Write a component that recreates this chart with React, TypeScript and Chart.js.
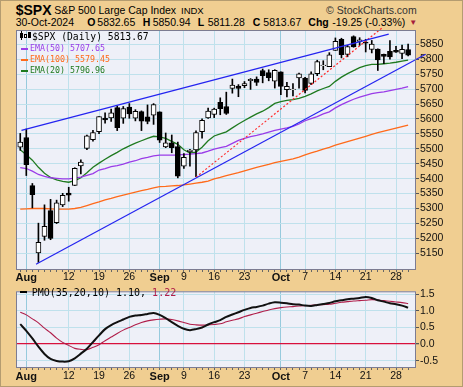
import React, { useEffect, useRef } from 'react';
import { Chart, registerables } from 'chart.js';
Chart.register(...registerables);

// ---------- DATA ----------
const dates = [
  'Jul 31', 'Aug 1', 'Aug 2', 'Aug 5', 'Aug 6', 'Aug 7', 'Aug 8', 'Aug 9', 'Aug 12', 'Aug 13',
  'Aug 14', 'Aug 15', 'Aug 16', 'Aug 19', 'Aug 20', 'Aug 21', 'Aug 22', 'Aug 23', 'Aug 26', 'Aug 27',
  'Aug 28', 'Aug 29', 'Aug 30', 'Sep 3', 'Sep 4', 'Sep 5', 'Sep 6', 'Sep 9', 'Sep 10', 'Sep 11',
  'Sep 12', 'Sep 13', 'Sep 16', 'Sep 17', 'Sep 18', 'Sep 19', 'Sep 20', 'Sep 23', 'Sep 24', 'Sep 25',
  'Sep 26', 'Sep 27', 'Sep 30', 'Oct 1', 'Oct 2', 'Oct 3', 'Oct 4', 'Oct 7', 'Oct 8', 'Oct 9',
  'Oct 10', 'Oct 11', 'Oct 14', 'Oct 15', 'Oct 16', 'Oct 17', 'Oct 18', 'Oct 21', 'Oct 22', 'Oct 23',
  'Oct 24', 'Oct 25', 'Oct 28', 'Oct 29', 'Oct 30',
];
const opens = [
  5505.6, 5537.8, 5376.6, 5151.1, 5206.4, 5293.1, 5252.6, 5312.2, 5351.9, 5377.0,
  5442.7, 5501.1, 5530.5, 5557.2, 5602.9, 5603.1, 5637.8, 5602.9, 5639.7, 5602.9,
  5624.5, 5607.3, 5612.7, 5623.9, 5506.7, 5520.1, 5507.3, 5442.1, 5490.5, 5496.4,
  5557.5, 5603.3, 5615.2, 5655.5, 5641.7, 5702.6, 5709.8, 5711.9, 5727.9, 5733.7,
  5762.2, 5755.4, 5726.5, 5757.7, 5698.2, 5698.2, 5737.8, 5737.1, 5719.1, 5751.8,
  5778.4, 5775.1, 5829.8, 5866.7, 5816.6, 5875.6, 5859.4, 5857.8, 5832.7, 5834.5,
  5816.8, 5826.8, 5830.2, 5819.7, 5832.65,
];
const highs = [
  5551.5, 5566.2, 5383.9, 5250.9, 5312.3, 5330.6, 5328.0, 5350.9, 5371.2, 5436.5,
  5463.2, 5546.2, 5562.0, 5608.3, 5620.5, 5632.7, 5643.2, 5641.8, 5651.6, 5631.2,
  5627.0, 5647.0, 5651.4, 5623.9, 5553.0, 5546.3, 5522.5, 5484.2, 5497.9, 5560.4,
  5600.7, 5636.3, 5636.1, 5670.8, 5689.8, 5733.6, 5715.1, 5725.4, 5735.3, 5741.0,
  5767.4, 5764.8, 5765.1, 5757.7, 5722.4, 5718.8, 5753.4, 5739.4, 5757.6, 5796.8,
  5795.0, 5822.1, 5871.4, 5870.4, 5846.5, 5878.5, 5872.2, 5866.9, 5863.0, 5834.9,
  5817.3, 5862.8, 5842.9, 5847.2, 5850.94,
];
const lows = [
  5495.0, 5410.4, 5302.0, 5119.3, 5193.6, 5195.5, 5249.5, 5306.3, 5324.4, 5377.0,
  5415.6, 5497.0, 5525.9, 5550.7, 5585.5, 5591.6, 5561.0, 5585.2, 5602.3, 5593.5,
  5561.0, 5583.7, 5581.8, 5521.1, 5503.7, 5486.8, 5402.6, 5434.5, 5441.7, 5407.0,
  5535.5, 5601.7, 5604.5, 5614.1, 5615.1, 5686.4, 5674.5, 5704.9, 5699.0, 5712.1,
  5721.0, 5727.8, 5703.5, 5681.3, 5674.0, 5677.2, 5702.8, 5686.9, 5714.6, 5745.0,
  5764.8, 5775.1, 5829.8, 5804.5, 5808.3, 5840.3, 5846.1, 5824.4, 5821.2, 5762.4,
  5784.9, 5800.0, 5823.1, 5802.0, 5811.28,
];
const closes = [
  5522.3, 5446.7, 5346.6, 5186.3, 5240.0, 5199.5, 5319.3, 5344.2, 5344.4, 5434.4,
  5455.2, 5543.2, 5554.3, 5608.3, 5597.1, 5620.9, 5570.6, 5634.6, 5616.8, 5625.8,
  5592.2, 5592.0, 5648.4, 5528.9, 5520.1, 5503.4, 5408.4, 5471.1, 5495.5, 5554.1,
  5595.8, 5626.0, 5633.1, 5634.6, 5618.3, 5713.6, 5702.6, 5718.6, 5732.9, 5722.3,
  5745.4, 5738.2, 5762.5, 5708.8, 5709.5, 5699.9, 5751.1, 5695.9, 5751.1, 5792.0,
  5780.1, 5815.0, 5859.9, 5815.3, 5842.5, 5841.5, 5864.7, 5854.0, 5851.2, 5797.4,
  5809.9, 5808.1, 5823.5, 5832.9, 5813.67,
];
const ema20 = [
  5497, 5480, 5462, 5438, 5418, 5404, 5396, 5391, 5388, 5393,
  5403, 5420, 5438, 5452, 5465, 5477, 5488, 5500, 5510, 5519,
  5527, 5535, 5542, 5540, 5535, 5525, 5515, 5497, 5486, 5489,
  5505, 5527, 5543, 5550, 5557, 5570, 5583, 5595, 5606, 5617,
  5626, 5638, 5652, 5658, 5662, 5665, 5669, 5676, 5684, 5694,
  5702, 5709, 5726, 5740, 5752, 5762, 5772, 5779, 5783, 5783,
  5785, 5787, 5790, 5794, 5797,
];
const ema50 = [
  5437, 5434, 5425, 5414, 5408, 5403, 5401, 5399, 5399, 5402,
  5405, 5411, 5417, 5429, 5434, 5440, 5444, 5449, 5455, 5460,
  5467, 5471, 5476, 5479, 5479, 5479, 5479, 5481, 5482, 5484,
  5486, 5492, 5499, 5504, 5508, 5518, 5528, 5535, 5541, 5545,
  5550, 5556, 5562, 5566, 5570, 5575, 5583, 5594, 5601, 5608,
  5617, 5624, 5637, 5648, 5657, 5666, 5673, 5679, 5685, 5688,
  5691, 5695, 5699, 5703, 5708,
];
const ema100 = [
  5298, 5299, 5300, 5300, 5300, 5299, 5298, 5298, 5298, 5300,
  5304, 5310, 5316, 5322, 5329, 5334, 5340, 5345, 5350, 5355,
  5360, 5364, 5369, 5373, 5374, 5376, 5377, 5379, 5382, 5385,
  5388, 5392, 5399, 5404, 5410, 5415, 5420, 5426, 5432, 5438,
  5443, 5448, 5454, 5458, 5462, 5466, 5472, 5480, 5486, 5492,
  5499, 5505, 5512, 5518, 5524, 5530, 5536, 5542, 5548, 5554,
  5559, 5564, 5569, 5574, 5579,
];
const pmo = [
  0.60, 0.40, 0.17, -0.08, -0.30, -0.45, -0.51, -0.53, -0.52, -0.43,
  -0.29, -0.14, 0.06, 0.26, 0.45, 0.57, 0.66, 0.74, 0.82, 0.86,
  0.88, 0.91, 0.94, 0.88, 0.78, 0.66, 0.55, 0.46, 0.42, 0.45,
  0.50, 0.59, 0.66, 0.72, 0.82, 0.89, 0.96, 1.03, 1.09, 1.12,
  1.16, 1.22, 1.26, 1.25, 1.23, 1.20, 1.19, 1.16, 1.15, 1.18,
  1.21, 1.24, 1.29, 1.32, 1.35, 1.37, 1.39, 1.42, 1.39, 1.32,
  1.28, 1.23, 1.20, 1.16, 1.10,
];
const pmoSignal = [
  0.96, 0.88, 0.76, 0.64, 0.48, 0.34, 0.18, 0.05, -0.04, -0.13,
  -0.16, -0.17, -0.10, -0.02, 0.10, 0.21, 0.32, 0.42, 0.50, 0.58,
  0.65, 0.70, 0.73, 0.75, 0.76, 0.74, 0.70, 0.65, 0.60, 0.58,
  0.57, 0.58, 0.59, 0.61, 0.67, 0.72, 0.76, 0.83, 0.88, 0.93,
  0.98, 1.03, 1.07, 1.10, 1.12, 1.13, 1.15, 1.16, 1.17, 1.18,
  1.19, 1.20, 1.23, 1.26, 1.28, 1.30, 1.31, 1.32, 1.34, 1.33,
  1.31, 1.29, 1.27, 1.25, 1.22,
];
const priceTicks = [5150, 5200, 5250, 5300, 5350, 5400, 5450, 5500, 5550, 5600, 5650, 5700, 5750, 5800, 5850];
const pmoTicks = [-0.5, 0, 0.5, 1.0, 1.5];
const dateTickIndex = [1, 8, 13, 18, 23, 27, 32, 37, 43, 47, 52, 57, 62];
const dateTickLabels = ['Aug', '12', '19', '26', 'Sep', '9', '16', '23', 'Oct', '7', '14', '21', '28'];
const monthLabels = ['Aug', 'Sep', 'Oct'];
// trend lines: [index, price]
const upperChannel = [[0.2, 5562], [60.8, 5884]];
const lowerChannel = [[2.6, 5113], [66.9, 5817]];
const redTrend = [[29, 5405], [59.7, 5905]];

// ---------- STYLE ----------
const TAN = '#F0CE91';
const PLOT_BG = '#EEF0F8';
const FRAME = '#7C7C92';
const GRID = '#BFE1EC';
const GRID_MONTH = '#96CADD';
const SANS = '"Liberation Sans", Arial, sans-serif';
const MONO = '"DejaVu Sans Mono", monospace';
const C_EMA50 = '#9A3CE8';
const C_EMA100 = '#FF6A1A';
const C_EMA20 = '#1F7A1F';
const C_BLUE = '#2424F0';
const C_RED = '#FF2A2A';
const C_SIGNAL = '#B01E4A';
const C_ZERO = '#D8103C';

const X_MIN = -0.7;
const X_MAX = 65.3;

const labelFor = (v: number) => {
  const k = dateTickIndex.indexOf(v);
  return k >= 0 ? dateTickLabels[k] : '';
};

const framePlugin = {
  id: 'frame',
  beforeDraw(chart: any) {
    const { ctx, chartArea: a } = chart;
    ctx.save();
    ctx.fillStyle = PLOT_BG;
    ctx.fillRect(a.left, a.top, a.right - a.left, a.bottom - a.top);
    ctx.restore();
  },
  afterDraw(chart: any) {
    const { ctx, chartArea: a } = chart;
    ctx.save();
    ctx.strokeStyle = FRAME;
    ctx.lineWidth = 1;
    ctx.strokeRect(a.left + 0.5, a.top + 0.5, a.right - a.left - 1, a.bottom - a.top - 1);
    ctx.restore();
  },
};

function xScale(height: number, pad: number) {
  return {
    type: 'linear',
    min: X_MIN,
    max: X_MAX,
    offset: false,
    afterBuildTicks: (s: any) => {
      s.ticks = dates.map((_, i) => ({ value: i }));
    },
    afterFit: (s: any) => {
      s.height = height;
    },
    border: { display: false },
    grid: {
      offset: false,
      drawTicks: true,
      tickLength: 2,
      tickColor: '#666',
      lineWidth: 1,
      color: (c: any) => {
        const lab = labelFor(c.tick ? c.tick.value : -1);
        if (!lab) return 'rgba(0,0,0,0)';
        return monthLabels.includes(lab) ? GRID_MONTH : GRID;
      },
    },
    ticks: {
      autoSkip: false,
      maxRotation: 0,
      minRotation: 0,
      padding: pad,
      color: '#111',
      callback: (v: any) => labelFor(v),
      font: (c: any) => {
        const lab = labelFor(c.tick ? c.tick.value : -1);
        const m = monthLabels.includes(lab);
        return { family: SANS, size: m ? 11 : 10.5, weight: m ? 'bold' : 'normal' };
      },
    },
  };
}

function pts(arr: number[]) {
  return arr.map((v, i) => ({ x: i, y: v }));
}
function seg(p: number[][]) {
  return p.map(([x, y]) => ({ x, y }));
}

function mainConfig(): any {
  const lineDs = (data: number[], color: string) => ({
    type: 'line', data: pts(data), borderColor: color, borderWidth: 1.3,
    pointRadius: 0, tension: 0, order: 5,
  });
  const trendDs = (p: number[][], color: string, dash: number[]) => ({
    type: 'line', data: seg(p), borderColor: color, borderWidth: 1.2, borderDash: dash,
    pointRadius: 0, tension: 0, clip: false, order: 0,
  });
  return {
    type: 'bar',
    data: {
      datasets: [
        lineDs(ema100, C_EMA100),
        lineDs(ema50, C_EMA50),
        lineDs(ema20, C_EMA20),
        {
          type: 'bar', data: dates.map((_, i) => ({ x: i, y: [lows[i], highs[i]] })),
          backgroundColor: '#000', borderWidth: 0, barThickness: 1, maxBarThickness: 1,
          grouped: false, order: 3,
        },
        {
          type: 'bar', data: dates.map((_, i) => ({ x: i, y: [opens[i], closes[i]] })),
          backgroundColor: dates.map((_, i) => (closes[i] > opens[i] ? '#FFFFFF' : '#000000')),
          borderColor: '#000', borderWidth: 1, borderSkipped: false,
          barThickness: 5, maxBarThickness: 5, grouped: false, order: 2,
        },
        trendDs(upperChannel, C_BLUE, []),
        trendDs(lowerChannel, C_BLUE, []),
        trendDs(redTrend, C_RED, [2, 2]),
      ],
    },
    options: {
      responsive: false,
      animation: false,
      devicePixelRatio: 1,
      events: [],
      layout: { padding: { left: 16, top: 30, right: 0, bottom: 0 } },
      plugins: { legend: { display: false }, tooltip: { enabled: false } },
      scales: {
        x: xScale(14, -1),
        y: {
          type: 'linear', position: 'right', min: 5094, max: 5898,
          afterBuildTicks: (s: any) => { s.ticks = priceTicks.map((v) => ({ value: v })); },
          afterFit: (s: any) => { s.width = 47; },
          border: { display: false },
          grid: { color: GRID, tickLength: 3, tickColor: '#555' },
          ticks: { padding: 1, color: '#111', font: { family: SANS, size: 10.5 }, callback: (v: any) => String(v) },
        },
      },
    },
    plugins: [framePlugin],
  };
}

function pmoConfig(): any {
  return {
    type: 'line',
    data: {
      datasets: [
        { data: pts(pmo), borderColor: '#111', borderWidth: 2, pointRadius: 0, tension: 0.3, order: 0 },
        { data: pts(pmoSignal), borderColor: C_SIGNAL, borderWidth: 1.1, pointRadius: 0, tension: 0.3, order: 1 },
      ],
    },
    options: {
      responsive: false,
      animation: false,
      devicePixelRatio: 1,
      events: [],
      layout: { padding: { left: 16, top: 1, right: 0, bottom: 0 } },
      plugins: { legend: { display: false }, tooltip: { enabled: false } },
      scales: {
        x: xScale(19, 0),
        y: {
          type: 'linear', position: 'right', min: -0.723, max: 1.592,
          afterBuildTicks: (s: any) => { s.ticks = pmoTicks.map((v) => ({ value: v })); },
          afterFit: (s: any) => { s.width = 47; },
          border: { display: false },
          grid: {
            color: (c: any) => (c.tick && c.tick.value === 0 ? C_ZERO : GRID),
            lineWidth: (c: any) => (c.tick && c.tick.value === 0 ? 1.3 : 1),
            tickLength: 3, tickColor: '#555',
          },
          ticks: { padding: 1, color: '#111', font: { family: SANS, size: 10.5 }, callback: (v: any) => Number(v).toFixed(1) },
        },
      },
    },
    plugins: [framePlugin],
  };
}

function Txt(props: any) {
  const { x, b, size, children, color = '#000', bold = false, family = SANS, right } = props;
  const style: any = {
    position: 'absolute', top: b - 0.846 * size, fontSize: size, lineHeight: `${size}px`,
    fontFamily: family, fontWeight: bold ? 700 : 400, color, whiteSpace: 'nowrap',
  };
  if (right !== undefined) style.right = right; else style.left = x;
  return <span style={style}>{children}</span>;
}

function Dash({ x, y, w, color }: any) {
  return <div style={{ position: 'absolute', left: x, top: y, width: w, height: 2, background: color }} />;
}

export default function App() {
  const mainRef = useRef<HTMLCanvasElement>(null);
  const pmoRef = useRef<HTMLCanvasElement>(null);
  useEffect(() => {
    document.body.style.margin = '0';
    const c1 = new Chart(mainRef.current as HTMLCanvasElement, mainConfig());
    const c2 = new Chart(pmoRef.current as HTMLCanvasElement, pmoConfig());
    return () => { c1.destroy(); c2.destroy(); };
  }, []);

  const r2 = 26.3;
  return (
    <div style={{ position: 'relative', width: 463, height: 387, background: TAN, overflow: 'hidden' }}>
      <Txt x={15.7} b={14.7} size={14} bold>$SPX</Txt>
      <Txt x={54.3} b={14.2} size={10.5}>S&amp;P 500 Large Cap Index</Txt>
      <Txt x={181} b={14.2} size={9.5}>INDX</Txt>
      <Txt right={46.3} b={14.2} size={10.5} color="#333">© StockCharts.com</Txt>

      <Txt x={15.7} b={r2} size={10.5}>30-Oct-2024</Txt>
      <Txt x={87.3} b={r2} size={10.5} bold>O</Txt>
      <Txt x={97.3} b={r2} size={10.5}>5832.65</Txt>
      <Txt x={142.7} b={r2} size={10.5} bold>H</Txt>
      <Txt x={152.7} b={r2} size={10.5}>5850.94</Txt>
      <Txt x={197.7} b={r2} size={10.5} bold>L</Txt>
      <Txt x={207.7} b={r2} size={10.5}>5811.28</Txt>
      <Txt x={252.7} b={r2} size={10.5} bold>C</Txt>
      <Txt x={263.3} b={r2} size={10.5}>5813.67</Txt>
      <Txt x={308.3} b={r2} size={10.5} bold>Chg</Txt>
      <Txt x={332.3} b={r2} size={10.5}>-19.25 (-0.33%)</Txt>
      <Txt x={409.3} b={r2 - 1} size={8} color="#A41C3C">▼</Txt>

      <canvas ref={mainRef} width={463} height={284} style={{ position: 'absolute', left: 0, top: 0, width: 463, height: 284 }} />
      <canvas ref={pmoRef} width={463} height={103} style={{ position: 'absolute', left: 0, top: 284, width: 463, height: 103 }} />

      {/* main legend */}
      <div style={{ position: 'absolute', left: 20, top: 33, width: 3, height: 5, background: '#000' }} />
      <div style={{ position: 'absolute', left: 21, top: 31, width: 1, height: 9, background: '#000' }} />
      <div style={{ position: 'absolute', left: 24, top: 34, width: 3, height: 4, border: '1px solid #000', background: '#fff', boxSizing: 'border-box' }} />
      <div style={{ position: 'absolute', left: 28, top: 32, width: 3, height: 6, background: '#000' }} />
      <Txt x={32} b={40} size={9.7} family={MONO}>$SPX (Daily) 5813.67</Txt>
      <Dash x={21} y={47.5} w={7} color={C_EMA50} />
      <Txt x={30} b={51} size={8.3} family={MONO} color={C_EMA50}>EMA(50) 5707.65</Txt>
      <Dash x={21} y={58.5} w={7} color={C_EMA100} />
      <Txt x={30} b={62.3} size={8.3} family={MONO} color={C_EMA100}>EMA(100) 5579.45</Txt>
      <Dash x={21} y={69.5} w={7} color={C_EMA20} />
      <Txt x={30} b={73.3} size={8.3} family={MONO} color={C_EMA20}>EMA(20) 5796.96</Txt>

      {/* PMO legend */}
      <Dash x={20} y={291} w={7} color="#000" />
      <Txt x={31.7} b={296} size={10} family={MONO}>PMO(35,20,10) 1.10, <span style={{ color: C_SIGNAL }}>1.22</span></Txt>

      <div style={{ position: 'absolute', left: 0, top: 0, width: 463, height: 387, border: '1px solid #B49C70', boxSizing: 'border-box', pointerEvents: 'none' }} />
    </div>
  );
}
